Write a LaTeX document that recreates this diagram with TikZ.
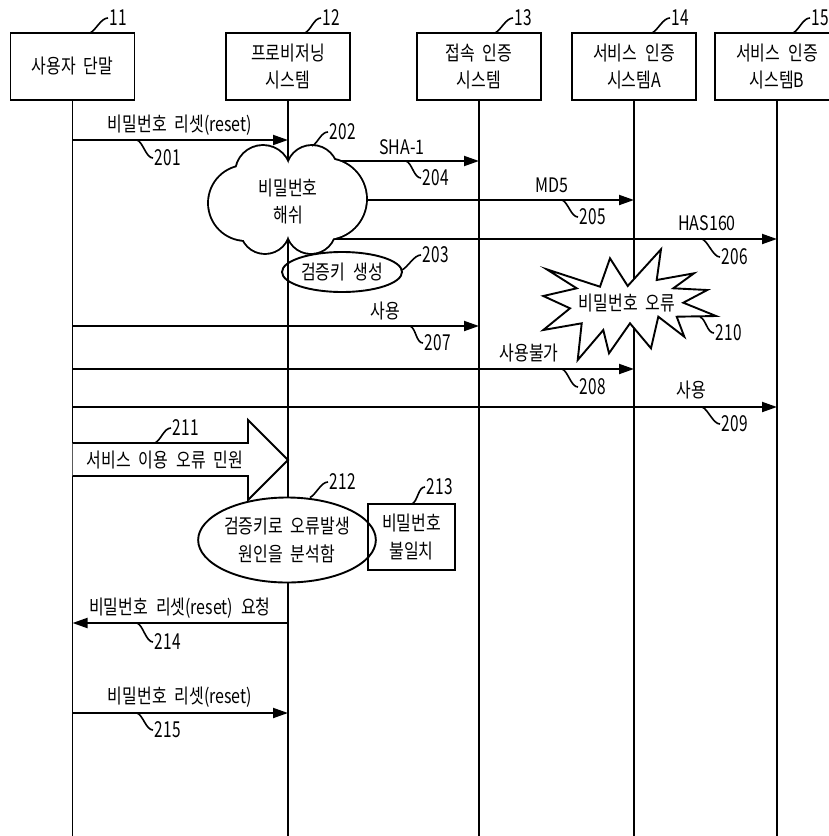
\documentclass[tikz,border=0pt]{standalone}
\usepackage{fontspec}
\setmainfont{Noto Sans CJK KR}[FakeStretch=0.8,WordSpace=2.2]
\newfontfamily\numfont{Noto Sans CJK KR}[FakeStretch=0.7]
\usetikzlibrary{arrows.meta,shapes.geometric,calc}
\begin{document}
\begin{tikzpicture}[x=1pt,y=-1pt,line width=1.9pt,
  txt/.style={font=\fontsize{20}{27}\selectfont,inner sep=0pt,align=center},
  num/.style={font=\numfont\fontsize{22}{24}\selectfont,inner sep=1pt,anchor=west},
  sysbox/.style={draw,minimum width=124pt,minimum height=67pt,align=center,inner sep=0pt,font=\fontsize{20}{27}\selectfont},
  msg/.style={-{Triangle[length=15pt,width=10pt]}},
  tick/.style={line width=1.6pt},
]
\useasboundingbox (0,0) rectangle (829,836);
\coordinate (bottom) at (0,836);
% system boxes
\node[sysbox] (b11) at (72.5,66.5) {사용자 단말};
\node[sysbox] (b12) at (288,66.5) {프로비저닝\\시스템};
\node[sysbox] (b13) at (479,66.5) {접속 인증\\시스템};
\node[sysbox] (b14) at (634,66.5) {서비스 인증\\시스템A};
\node[sysbox] (b15) at (777,66.5) {서비스 인증\\시스템B};
% lifelines
\foreach \b in {b11,b12,b13,b14,b15}{\draw (\b.south) -- (\b.south |- bottom);}
% box reference labels
\node[num] (n11) at (108,18) {11};
\node[num] (n12) at (321,18) {12};
\node[num] (n13) at (513,18) {13};
\node[num] (n14) at (670,18) {14};
\node[num] (n15) at (810,18) {15};
\coordinate (s11) at (90,33);
\coordinate (s12) at (305,33);
\coordinate (s13) at (495,33);
\coordinate (s14) at (652,33);
\coordinate (s15) at (793,33);
\foreach \i in {11,12,13,14,15}{\draw[tick] (s\i) .. controls +(6,-3) and +(-7,0) .. (n\i.west);}
% message levels
\coordinate (y201) at (0,140);
\coordinate (y204) at (0,161);
\coordinate (y205) at (0,200);
\coordinate (y206) at (0,239);
\coordinate (y207) at (0,326);
\coordinate (y208) at (0,369);
\coordinate (y209) at (0,407);
\coordinate (y214) at (0,623);
\coordinate (y215) at (0,713);
\draw[msg] (b11.south |- y201) -- (b12.south |- y201);
\draw[msg] (b12.south |- y204) -- (b13.south |- y204);
\draw[msg] (b12.south |- y205) -- (b14.south |- y205);
\draw[msg] (b12.south |- y206) -- (b15.south |- y206);
\draw[msg] (b11.south |- y207) -- (b13.south |- y207);
\draw[msg] (b11.south |- y208) -- (b14.south |- y208);
\draw[msg] (b11.south |- y209) -- (b15.south |- y209);
\draw[msg] (b12.south |- y214) -- (b11.south |- y214);
\draw[msg] (b11.south |- y215) -- (b12.south |- y215);
% message texts
\node[txt] (t201) at (180,125) {비밀번호 리셋(reset)};
\node[txt] (t204) at (402,147) {SHA-1};
\node[txt] (t205) at (552,185) {MD5};
\node[txt] (t206) at (707,223) {HAS160};
\node[txt] (t207) at (385,311) {사용};
\node[txt] (t208) at (529,353) {사용불가};
\node[txt] (t209) at (691,390) {사용};
\node[txt] (t214) at (180,608) {비밀번호 리셋(reset) 요청};
\node[txt] (t215) at (180,697) {비밀번호 리셋(reset)};
% cloud 202
\begin{scope}
\foreach \c/\r in {{(263,173)}/27,{(312,171)}/25,{(246,203)}/37,{(326,199)}/40,{(265,229)}/24,{(311,229)}/24}{
  \draw[line width=3.8pt] \c circle[radius=\r];}
\foreach \c/\r in {{(263,173)}/27,{(312,171)}/25,{(246,203)}/37,{(326,199)}/40,{(265,229)}/24,{(311,229)}/24}{
  \fill[white] \c circle[radius=\r];}
\fill[white] (250,175) rectangle (325,228);
\end{scope}
\node[txt] (c202) at (288,202) {비밀번호\\해쉬};
% ellipse 203
\node[draw,ellipse,minimum width=120pt,minimum height=40pt,inner sep=0pt,font=\fontsize{20}{27}\selectfont] (e203) at (342,272) {검증키 생성};
% starburst 210
\draw[fill=white,line join=miter] (546.7,269.3) -- (600,286.7) -- (610,258.3) -- (627.7,286) -- (661,249.3) -- (656.7,280) -- (694,273.3) -- (673.3,288.3) -- (707.3,290) -- (683.3,302.7) -- (716,316) -- (676.7,316.7) -- (684.3,336.7) -- (658.3,316.7) -- (651,348.3) -- (630,323.3) -- (609,353.3) -- (603.3,330) -- (577.7,360) -- (581.7,323.3) -- (543.3,330) -- (570,308.3) -- (543.3,296) -- (576.7,288.3) -- cycle;
\node[txt] (t210) at (627,303) {비밀번호 오류};
% block arrow 211
\coordinate (y211a) at (0,443);
\coordinate (y211b) at (0,476);
\draw[fill=white,line join=miter] (b11.south |- y211a) -- (248,443) -- (248,420) -- (288,460) -- (248,500) -- (248,476) -- (b11.south |- y211b);
\node[txt] (t211) at (165,460) {서비스 이용 오류 민원};
% ellipse 212
\node[draw,ellipse,fill=white,minimum width=162pt,minimum height=85pt,inner sep=0pt,align=center,font=\fontsize{20}{28}\selectfont] (e212) at (287,540) {검증키로 오류발생\\원인을 분석함};
% box 213
\node[draw,minimum width=87pt,minimum height=66pt,inner sep=0pt,align=center,font=\fontsize{20}{28}\selectfont] (b213) at (411.5,537) {비밀번호\\불일치};
% reference numbers for events
\node[num] (n201) at (153,158) {201};
\node[num] (n202) at (328,132) {202};
\node[num] (n203) at (421,255) {203};
\node[num] (n204) at (421,178) {204};
\node[num] (n205) at (578,217) {205};
\node[num] (n206) at (720,257) {206};
\node[num] (n207) at (423,343) {207};
\node[num] (n208) at (578,387) {208};
\node[num] (n209) at (720,424) {209};
\node[num] (n210) at (714,333) {210};
\node[num] (n211) at (171,428) {211};
\node[num] (n212) at (328,482) {212};
\node[num] (n213) at (425,487) {213};
\node[num] (n214) at (153,642) {214};
\node[num] (n215) at (153,730) {215};
% tick start points
\coordinate (s201) at (137,140);
\coordinate (s204) at (406,161);
\coordinate (s205) at (562,200);
\coordinate (s206) at (702,239);
\coordinate (s207) at (410,326);
\coordinate (s208) at (562,369);
\coordinate (s209) at (702,407);
\coordinate (s210) at (700,317);
\coordinate (s214) at (137,623);
\coordinate (s215) at (137,713);
\coordinate (s202) at (312,146);
\coordinate (s203) at (402,270);
\coordinate (s211) at (155,443);
\coordinate (s212) at (310,497.5);
\coordinate (s213) at (412,504);
\foreach \i in {201,204,205,206,207,208,209,210,214,215}{\draw[tick] (s\i) .. controls +(6,2) and +(-7,0) .. (n\i.west);}
\foreach \i in {202,203,211,212,213}{\draw[tick] (s\i) .. controls +(6,-3) and +(-7,0) .. (n\i.west);}
\end{tikzpicture}
\end{document}
